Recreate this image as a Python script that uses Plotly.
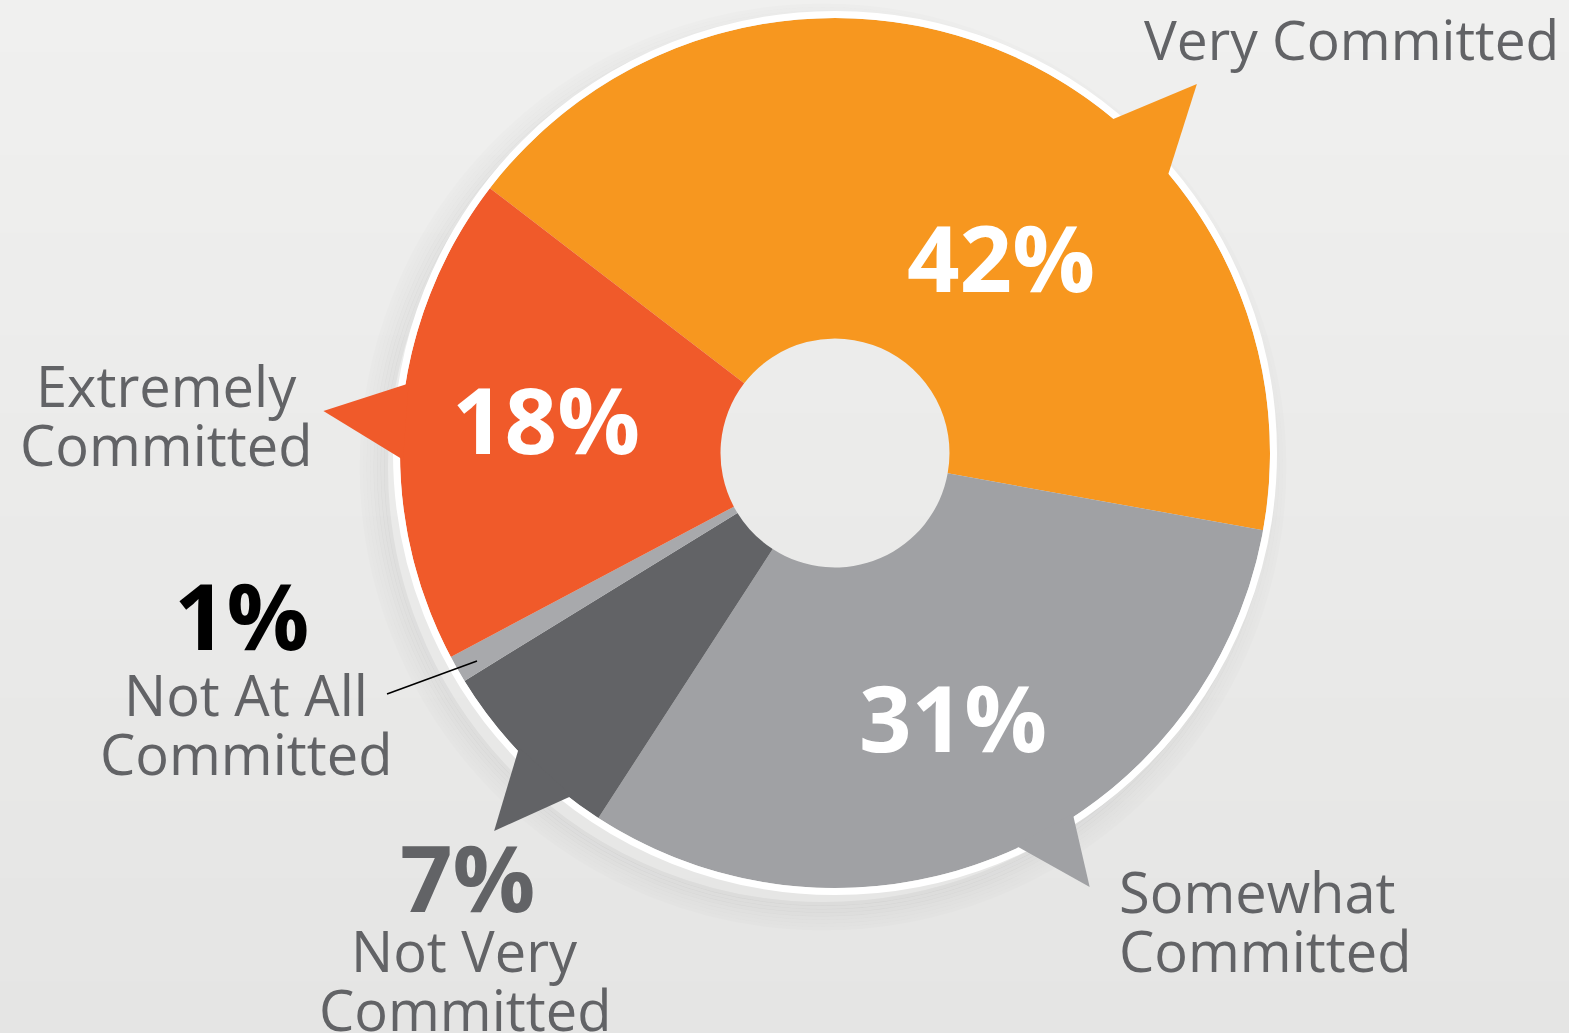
import math
import plotly.graph_objects as go

# ---------------- data ----------------
categories = ["Very Committed", "Somewhat Committed", "Not Very Committed",
              "Not At All Committed", "Extremely Committed"]
values = [42, 31, 7, 1, 18]
label_lines = [["Very Committed"], ["Somewhat", "Committed"], ["Not Very", "Committed"],
               ["Not At All", "Committed"], ["Extremely", "Committed"]]
colors = ["#F7971F", "#A0A1A4", "#626366", "#A8A9AC", "#F05A2A"]

# ---------------- layout constants ----------------
W, H = 1569, 1033
CX, CY, R = 835, 453, 435
HOLE_R = 114.5
ROTATION = -52.5
TEXT_GRAY = "#626366"


def px(x):
    return x / W


def py(y):
    return 1 - y / H


def polar(theta_deg, r):
    t = math.radians(theta_deg)
    return CX + r * math.sin(t), CY - r * math.cos(t)


fig = go.Figure()
fig.add_trace(go.Pie(
    labels=categories, values=values, sort=False, direction="clockwise",
    rotation=ROTATION, hole=HOLE_R / R,
    marker=dict(colors=colors, line=dict(width=0)),
    textinfo="none", hoverinfo="label+percent", showlegend=False,
    domain=dict(x=[px(CX - R), px(CX + R)], y=[py(CY + R), py(CY - R)]),
))

shapes = []
# background gradient
N = 40
top, bot = (240, 240, 239), (229, 229, 228)
for i in range(N):
    f = i / (N - 1)
    c = tuple(round(top[k] + (bot[k] - top[k]) * f) for k in range(3))
    shapes.append(dict(type="rect", xref="paper", yref="paper", layer="below",
                       x0=0, x1=1, y0=py((i + 1) * H / N + 1), y1=py(i * H / N),
                       fillcolor="rgb(%d,%d,%d)" % c, line=dict(width=0)))
# soft shadow (outline rings, offset down-left, so the hole stays clear)
for k in range(8):
    rr = R + 2 + k * 3.5
    sx, sy = CX - 12, CY + 14
    shapes.append(dict(type="circle", xref="paper", yref="paper", layer="below",
                       x0=px(sx - rr), x1=px(sx + rr), y0=py(sy + rr), y1=py(sy - rr),
                       fillcolor="rgba(0,0,0,0)",
                       line=dict(color="rgba(0,0,0,%.3f)" % (0.045 - k * 0.005), width=4)))
# white rim
RING = 7
rr = R + RING / 2
shapes.append(dict(type="circle", xref="paper", yref="paper", layer="above",
                   x0=px(CX - rr), x1=px(CX + rr), y0=py(CY + rr), y1=py(CY - rr),
                   fillcolor="rgba(0,0,0,0)", line=dict(color="white", width=RING)))
# callout pointers (slice index, base angle 1, base angle 2, tip angle, tip radius factor)
pointers = [(0, 39.6, 50.3, 44.45, 1.188), (1, 146.6, 155.3, 149.6, 1.157),
            (2, 217.5, 227.0, 222.05, 1.17), (4, 269.1, 279.25, 274.7, 1.18)]
for idx, a1, a2, at, tf in pointers:
    b1 = polar(a1, R - 3)
    b2 = polar(a2, R - 3)
    tp = polar(at, R * tf)
    path = "M %f,%f L %f,%f L %f,%f Z" % (px(b1[0]), py(b1[1]), px(tp[0]), py(tp[1]),
                                          px(b2[0]), py(b2[1]))
    shapes.append(dict(type="path", xref="paper", yref="paper", layer="above", path=path,
                       fillcolor=colors[idx], line=dict(width=0)))
# leader line for the 1% slice
shapes.append(dict(type="line", xref="paper", yref="paper", layer="above",
                   x0=px(387), y0=py(694), x1=px(477), y1=py(661),
                   line=dict(color="black", width=1.6)))

annotations = []
# percentage labels: (x, y, color)
pct_pos = [(1001, 256, "white"), (953, 716, "white"), (467, 876, TEXT_GRAY),
           (241, 614, "black"), (546, 418, "white")]
for v, (x, y, c) in zip(values, pct_pos):
    annotations.append(dict(x=px(x), y=py(y), xref="paper", yref="paper",
                            text="%d%%" % v, showarrow=False, xanchor="center", yanchor="middle",
                            font=dict(family="Open Sans", size=92, color=c, weight=700)))
# category labels: (x, first line y, xanchor, size)
lab_pos = [(1561, 38.5, "right", 55), (1117, 891, "left", 56), (465, 950, "center", 56),
           (246, 694, "center", 56), (166, 385, "center", 56)]
LINE = 59
for lines, (x, y, xa, sz) in zip(label_lines, lab_pos):
    for j, t in enumerate(lines):
        annotations.append(dict(x=px(x), y=py(y + j * LINE), xref="paper", yref="paper",
                                text=t, showarrow=False, xanchor=xa, yanchor="middle",
                                font=dict(family="Open Sans", size=sz, color=TEXT_GRAY)))

fig.update_layout(width=W, height=H, autosize=False,
                  margin=dict(l=0, r=0, t=0, b=0),
                  paper_bgcolor="#EAEAE9", plot_bgcolor="#EAEAE9",
                  shapes=shapes, annotations=annotations)
fig.write_html("out.html", config={"displayModeBar": False},
               post_script="document.body.style.margin='0';")
